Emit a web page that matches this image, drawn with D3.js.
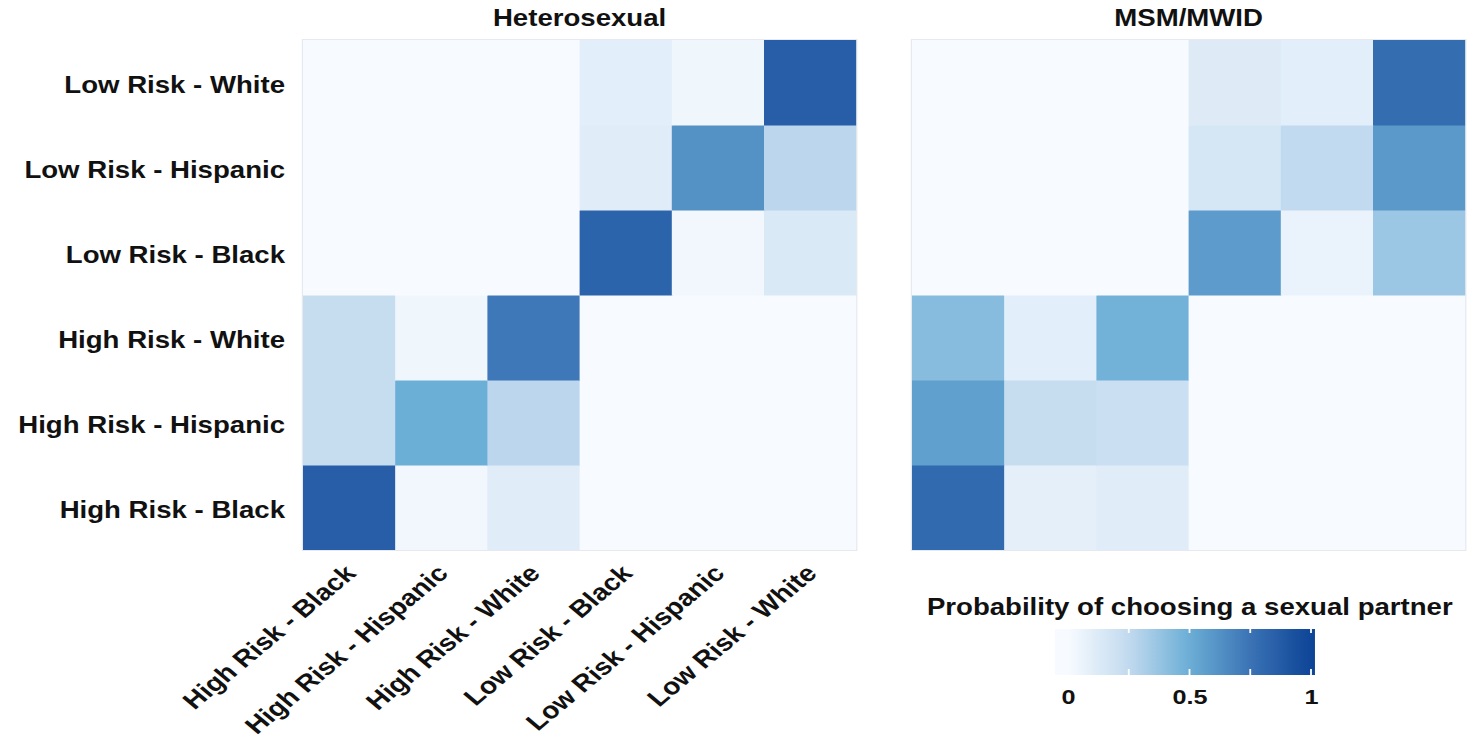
<!DOCTYPE html>
<html>
<head>
<meta charset="utf-8">
<script src="https://cdn.jsdelivr.net/npm/d3@7"></script>
<style>
	body { margin: 0; background: #fff; }
	text { font-family: "Liberation Sans", Arial, sans-serif; font-weight: bold; fill: #111; }
</style>
</head>
<body>
<svg id="chart" width="1481" height="739"></svg>
<script>
// partner groups, same order for columns (left to right)
var groups = ['High Risk - Black', 'High Risk - Hispanic', 'High Risk - White',
	'Low Risk - Black', 'Low Risk - Hispanic', 'Low Risk - White'];
// rows are drawn bottom to top in the same order
var rowOrder = groups.slice().reverse();

// probability that a person in row group picks a partner in column group
var heteroValues = [
	[0.86, 0.03, 0.11, 0, 0, 0],
	[0.23, 0.50, 0.27, 0, 0, 0],
	[0.23, 0.04, 0.73, 0, 0, 0],
	[0, 0, 0, 0.83, 0.03, 0.14],
	[0, 0, 0, 0.11, 0.62, 0.27],
	[0, 0, 0, 0.10, 0.04, 0.86]
];
var msmValues = [
	[0.80, 0.09, 0.11, 0, 0, 0],
	[0.56, 0.23, 0.21, 0, 0, 0],
	[0.42, 0.10, 0.48, 0, 0, 0],
	[0, 0, 0, 0.58, 0.06, 0.36],
	[0, 0, 0, 0.16, 0.25, 0.59],
	[0, 0, 0, 0.12, 0.10, 0.78]
];

var panelTitles = ['Heterosexual', 'MSM/MWID'];
var legendTitle = 'Probability of choosing a sexual partner';
var legendLabels = [0, 0.5, 1];
var legendMarks = [0.25, 0.5, 0.75, 1];
var colorStops = [0, 0.25, 0.5, 0.75, 1];
var colorRange = ['#f7fbff', '#c2daef', '#6baed6', '#3b73b5', '#0d4496'];

// the original is stretched sideways, so lay out in narrow units and widen
var sx = 1.2;
var svg = d3.select('#chart');
var g = svg.append('g').attr('transform', 'scale(' + sx + ',1)');

var color = d3.scaleLinear().domain(colorStops).range(colorRange).clamp(true);
var y = d3.scaleBand().domain(rowOrder).range([40, 550]);

var panels = [
	{title: panelTitles[0], values: heteroValues, x0: 252.5},
	{title: panelTitles[1], values: msmValues, x0: 760}
];

panels.forEach(function(p, pi) {
	var x = d3.scaleBand().domain(groups).range([p.x0, p.x0 + 461]);
	var pg = g.append('g');

	var cells = [];
	p.values.forEach(function(row, i) {
		row.forEach(function(v, j) {
			cells.push({row: groups[i], col: groups[j], value: v});
		});
	});

	pg.selectAll('rect.cell')
		.data(cells)
		.enter().append('rect')
		.attr('class', 'cell')
		.attr('x', function(d) { return x(d.col); })
		.attr('y', function(d) { return y(d.row); })
		.attr('width', x.bandwidth() + 0.5)
		.attr('height', y.bandwidth() + 0.5)
		.style('fill', function(d) { return color(d.value); });

	pg.append('rect')
		.attr('x', p.x0 - 0.5)
		.attr('y', 39.5)
		.attr('width', 462)
		.attr('height', 511)
		.style('fill', 'none')
		.style('stroke', '#e6e9ee')
		.style('stroke-width', 1);

	pg.append('text')
		.attr('x', p.x0 + 230.5)
		.attr('y', 26)
		.attr('text-anchor', 'middle')
		.style('font-size', '23px')
		.text(p.title);

	if (pi === 0) {
		var ya = pg.append('g')
			.attr('transform', 'translate(' + p.x0 + ',0)')
			.call(d3.axisLeft(y).tickSize(0).tickPadding(15));
		ya.select('.domain').remove();
		ya.selectAll('text')
			.attr('dy', '0.45em')
			.style('font-size', '23px')
			.style('font-family', '"Liberation Sans", Arial, sans-serif')
			.style('fill', '#111');

		var xa = pg.append('g')
			.attr('transform', 'translate(0,550)')
			.call(d3.axisBottom(x).tickSize(0));
		xa.select('.domain').remove();
		xa.selectAll('text')
			.attr('x', 0)
			.attr('y', 0)
			.attr('dy', '0.35em')
			.attr('transform', 'translate(1,19) rotate(-45)')
			.style('text-anchor', 'end')
			.style('font-size', '23.5px')
			.style('font-family', '"Liberation Sans", Arial, sans-serif')
			.style('fill', '#111');
	}
});

// colour bar legend
var barX0 = 879, barX1 = 1095.8, barY = 629, barH = 46;
var lx = d3.scaleLinear().domain([0, 1]).range([890, 1092.5]);

var grad = svg.append('defs').append('linearGradient')
	.attr('id', 'legendGrad')
	.attr('x1', '0%').attr('x2', '100%').attr('y1', '0%').attr('y2', '0%');
d3.range(0, 1.0001, 0.05).forEach(function(t) {
	grad.append('stop')
		.attr('offset', (t * 100) + '%')
		.attr('stop-color', color(lx.invert(barX0 + t * (barX1 - barX0))));
});

g.append('text')
	.attr('x', 991.5)
	.attr('y', 615)
	.attr('text-anchor', 'middle')
	.style('font-size', '23px')
	.text(legendTitle);

g.append('rect')
	.attr('x', barX0)
	.attr('y', barY)
	.attr('width', barX1 - barX0)
	.attr('height', barH)
	.style('fill', 'url(#legendGrad)');

g.selectAll('line.mark-top')
	.data(legendMarks)
	.enter().append('line')
	.attr('x1', function(d) { return lx(d); })
	.attr('x2', function(d) { return lx(d); })
	.attr('y1', barY)
	.attr('y2', barY + 4)
	.style('stroke', '#fff')
	.style('stroke-width', 1.5);
g.selectAll('line.mark-bottom')
	.data(legendMarks)
	.enter().append('line')
	.attr('x1', function(d) { return lx(d); })
	.attr('x2', function(d) { return lx(d); })
	.attr('y1', barY + barH - 6)
	.attr('y2', barY + barH)
	.style('stroke', '#fff')
	.style('stroke-width', 1.5);

var la = g.append('g')
	.attr('transform', 'translate(0,' + (barY + barH) + ')')
	.call(d3.axisBottom(lx).tickValues(legendLabels).tickFormat(d3.format('~g')).tickSize(0).tickPadding(14));
la.select('.domain').remove();
la.selectAll('text')
	.style('font-size', '21px')
	.style('font-family', '"Liberation Sans", Arial, sans-serif')
	.style('fill', '#111');
</script>
</body>
</html>
